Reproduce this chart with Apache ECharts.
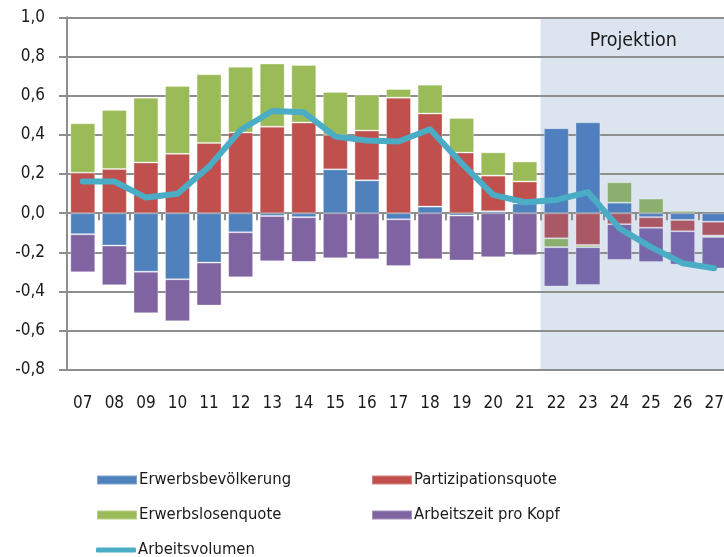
<!DOCTYPE html>
<html>
<head>
<meta charset="utf-8">
<script src="https://cdn.jsdelivr.net/npm/echarts@6/dist/echarts.min.js"></script>
<style>html,body{margin:0;padding:0;background:#fff;overflow:hidden}#c{width:732px;height:557px}</style>
</head>
<body>
<div id="c"></div>
<script>
const years = ['07','08','09','10','11','12','13','14','15','16','17','18','19','20','21','22','23','24','25','26','27'];
const erwerbsbevoelkerung = [-0.107,-0.165,-0.298,-0.337,-0.252,-0.097,-0.014,-0.020,0.224,0.168,-0.031,0.034,-0.012,0.010,0.050,0.434,0.464,0.054,-0.020,-0.034,-0.043];
const partizipationsquote = [0.207,0.226,0.259,0.303,0.359,0.412,0.442,0.463,0.176,0.254,0.590,0.475,0.310,0.182,0.112,-0.128,-0.162,-0.056,-0.054,-0.058,-0.071];
const erwerbslosenquote = [0.252,0.301,0.331,0.347,0.350,0.336,0.322,0.294,0.219,0.183,0.044,0.147,0.176,0.119,0.102,-0.045,-0.011,0.104,0.075,0.012,-0.007];
const arbeitszeitProKopf = [-0.194,-0.202,-0.212,-0.214,-0.219,-0.230,-0.231,-0.228,-0.230,-0.235,-0.238,-0.235,-0.229,-0.224,-0.214,-0.201,-0.193,-0.182,-0.175,-0.170,-0.161];
const arbeitsvolumen = [0.162,0.162,0.080,0.099,0.238,0.425,0.522,0.515,0.391,0.371,0.366,0.429,0.255,0.094,0.056,0.068,0.107,-0.077,-0.173,-0.255,-0.281];
const projectionStart = 15; // index of '22'
const yTicks = {min: -0.8, max: 1.0, step: 0.2};
const projLabel = 'Projektion';

const FONT = 'DejaVu Sans Condensed';
const TXT = '#1a1a1a';
const GRID = '#8e8e8e';

function tint(hex) {
  const o = [80, 120, 200], a = 0.2;
  const c = [1, 3, 5].map(i => parseInt(hex.substr(i, 2), 16));
  return 'rgb(' + c.map((v, k) => Math.round(v * (1 - a) + o[k] * a)).join(',') + ')';
}
function barData(arr, color) {
  return arr.map((v, i) => i >= projectionStart ? {value: v, itemStyle: {color: tint(color)}} : v);
}
function barSeries(name, arr, color) {
  return {
    name, type: 'bar', stack: 'total', data: barData(arr, color),
    xAxisIndex: 0, yAxisIndex: 0,
    barCategoryGap: '21%',
    itemStyle: {color, borderColor: 'rgba(255,255,255,0.3)', borderWidth: 1},
    emphasis: {disabled: true}, z: 3
  };
}
const legendText = {fontSize: 16.5, color: TXT, lineHeight: 20, fontFamily: FONT, padding: [0, 0, 0, -3]};

const chart = echarts.init(document.getElementById('c'), null, {renderer: 'canvas'});
chart.setOption({
  animation: false,
  textStyle: {fontFamily: FONT},
  grid: {left: 67, top: 17.3, right: 2, bottom: 187, containLabel: false},
  xAxis: [
    {type: 'category', data: years, boundaryGap: true,
     axisLine: {onZero: true, lineStyle: {color: GRID, width: 2}},
     axisTick: {show: true, interval: 0, length: 7, lineStyle: {color: GRID, width: 2}},
     axisLabel: {show: false}, splitLine: {show: false}},
    {type: 'category', data: years, boundaryGap: true, position: 'bottom',
     axisLine: {show: false, onZero: false}, axisTick: {show: false},
     axisLabel: {show: true, interval: 0, margin: 25, fontSize: 17, color: TXT, fontFamily: FONT}},
    {type: 'value', min: 0, max: years.length, show: false}
  ],
  yAxis: {
    type: 'value', min: yTicks.min, max: yTicks.max, interval: yTicks.step,
    axisLine: {show: true, lineStyle: {color: GRID, width: 2}},
    axisTick: {show: true, length: 8, lineStyle: {color: GRID, width: 2}},
    axisLabel: {fontSize: 17, color: TXT, margin: 22, fontFamily: FONT,
      formatter: v => (Math.abs(v) < 1e-9 ? 0 : v).toFixed(1).replace('.', ',')},
    splitLine: {show: true, lineStyle: {color: GRID, width: 2}}
  },
  legend: [
    {left: 91, top: 465, orient: 'vertical', itemWidth: 40, itemHeight: 9, itemGap: 15, icon: 'rect',
     textStyle: legendText, data: ['Erwerbsbevölkerung', 'Erwerbslosenquote']},
    {left: 366, top: 465, orient: 'vertical', itemWidth: 40, itemHeight: 9, itemGap: 15, icon: 'rect',
     textStyle: legendText, data: ['Partizipationsquote', 'Arbeitszeit pro Kopf']},
    {left: 91, top: 535, orient: 'vertical', itemWidth: 40, itemHeight: 5, icon: 'roundRect',
     textStyle: legendText, data: ['Arbeitsvolumen']}
  ],
  series: [
    {type: 'line', data: [], xAxisIndex: 2, yAxisIndex: 0, silent: true,
     markArea: {silent: true, z: -1, itemStyle: {color: '#dbe4ef'},
       label: {show: true, position: 'insideTop', distance: 14, fontSize: 19.5, color: TXT, fontFamily: FONT, offset: [-2, 0]},
       data: [[{xAxis: projectionStart, name: projLabel}, {xAxis: years.length}]]}},
    barSeries('Erwerbsbevölkerung', erwerbsbevoelkerung, '#4f81bd'),
    barSeries('Partizipationsquote', partizipationsquote, '#c0504d'),
    barSeries('Erwerbslosenquote', erwerbslosenquote, '#9bbb59'),
    barSeries('Arbeitszeit pro Kopf', arbeitszeitProKopf, '#8064a2'),
    {name: 'Arbeitsvolumen', type: 'line', data: arbeitsvolumen, xAxisIndex: 0, yAxisIndex: 0,
     symbol: 'none', z: 5, color: '#4bacc6',
     lineStyle: {width: 6, color: '#4bacc6', cap: 'round', join: 'round'}}
  ]
});
</script>
</body>
</html>
